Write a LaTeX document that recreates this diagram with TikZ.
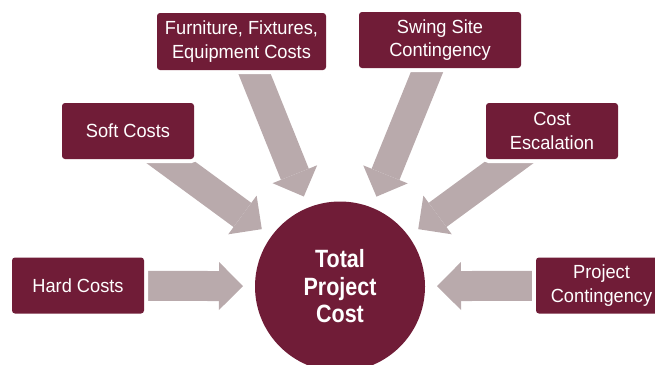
\documentclass[tikz,border=0pt]{standalone}
\usepackage{fontspec}
\setmainfont{Liberation Sans}
\newfontfamily\hubfont[FakeStretch=0.86]{Liberation Sans}
\newfontfamily\boxfont[FakeStretch=0.96]{Liberation Sans}
\usetikzlibrary{arrows.meta}
\pgfdeclarelayer{background}
\pgfsetlayers{background,main}
\definecolor{maroon}{RGB}{112,28,55}
\definecolor{arrowgray}{RGB}{185,170,172}
\begin{document}
\begin{tikzpicture}[x=1pt,y=-1pt,
  costbox/.style={fill=maroon, rounded corners=3pt, text=white, align=center,
    inner sep=0pt, minimum height=56pt,
    font=\boxfont\fontsize{19}{23.5}\selectfont,
    preaction={draw=white, line width=8pt}},
  hub/.style={circle, fill=maroon, minimum size=170pt, inner sep=0pt, outer sep=0pt,
    text=white, align=center, font=\hubfont\bfseries\fontsize{25}{27.5}\selectfont},
  flow/.style={draw=arrowgray, line width=30pt,
    -{Triangle[length=24pt,width=48pt,line width=0pt]}, shorten >=12pt}]
\useasboundingbox (0,0) rectangle (655,364);
\clip (0,0) rectangle (655,364);

\node[hub] (c) at (340,286.5) {Total\\Project\\Cost};

\node[costbox, minimum width=132pt] (hard) at (78,285.5) {Hard Costs};
\node[costbox, minimum width=132pt] (soft) at (128,131) {Soft Costs};
\node[costbox, minimum width=169pt, minimum height=57pt] (ffe) at (241.5,41.5) {Furniture, Fixtures,\\Equipment Costs};
\node[costbox, minimum width=162pt] (swing) at (440,40) {Swing Site\\Contingency};
\node[costbox, minimum width=132pt] (esc) at (552,131) {Cost\\Escalation};
\node[costbox, minimum width=131pt] (proj) at (601.5,285.5) {Project\\Contingency};

\begin{pgfonlayer}{background}
\draw[flow] (hard.center) -- (c);
\draw[flow] (soft.center) -- (c);
\draw[flow] (ffe.center) -- (c);
\draw[flow] (swing.center) -- (c);
\draw[flow] (esc.center) -- (c);
\draw[flow] (proj.center) -- (c);
\end{pgfonlayer}
\end{tikzpicture}
\end{document}
